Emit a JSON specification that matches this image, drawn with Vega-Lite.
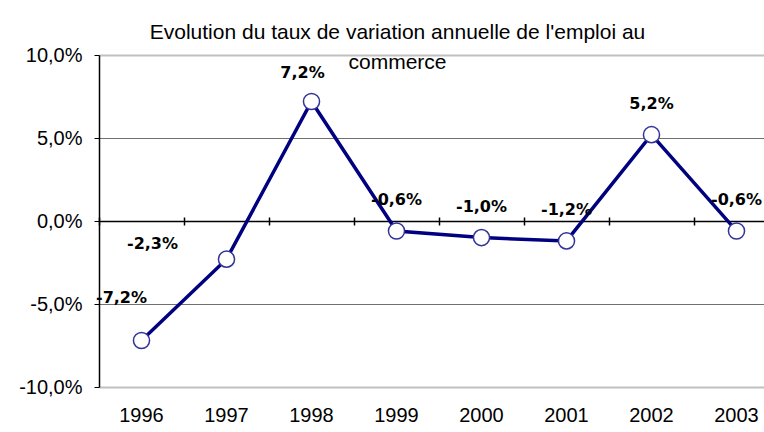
{
  "$schema": "https://vega.github.io/schema/vega-lite/v6.json",
  "width": 680,
  "height": 332,
  "autosize": {"type": "none"},
  "padding": {"left": 99, "top": 55, "right": 0, "bottom": 45},
  "background": "white",
  "title": {
    "text": ["Evolution du taux de variation annuelle de l'emploi au", "commerce"],
    "font": "Liberation Sans",
    "fontSize": 21,
    "fontWeight": "normal",
    "color": "black",
    "lineHeight": 30,
    "anchor": "middle",
    "dx": -41.5,
    "baseline": "top",
    "offset": -28
  },
  "data": {
    "values": [
      {"year": "1996", "value": -0.072},
      {"year": "1997", "value": -0.023},
      {"year": "1998", "value": 0.072},
      {"year": "1999", "value": -0.006},
      {"year": "2000", "value": -0.010},
      {"year": "2001", "value": -0.012},
      {"year": "2002", "value": 0.052},
      {"year": "2003", "value": -0.006}
    ]
  },
  "resolve": {"axis": {"x": "independent", "y": "independent"}},
  "layer": [
    {
      "mark": {"type": "line", "stroke": "#000080", "strokeWidth": 3.5},
      "encoding": {
        "x": {
          "field": "year", "type": "ordinal",
          "scale": {"type": "band", "paddingInner": 0, "paddingOuter": 0},
          "axis": {
            "orient": "bottom", "offset": -170, "labels": false, "domain": false,
            "ticks": true, "tickBand": "extent", "tickSize": 8, "tickColor": "black",
            "tickWidth": 1.5, "title": null, "grid": false
          }
        },
        "y": {
          "field": "value", "type": "quantitative",
          "scale": {"domain": [-0.1, 0.1], "nice": false, "zero": false},
          "axis": {
            "values": [-0.1, -0.05, 0, 0.05, 0.1],
            "format": ".1%",
            "labelFont": "Liberation Sans",
            "labelFontSize": 20,
            "labelColor": "black",
            "labelPadding": 12,
            "tickSize": 5,
            "tickColor": "black",
            "domainColor": "black",
            "domainWidth": 1.5,
            "grid": true,
            "gridColor": {"condition": [{"test": "datum.value === 0", "value": "black"}, {"test": "abs(datum.value) > 0.09", "value": "#c0c0c0"}], "value": "#707070"},
            "gridWidth": {"condition": [{"test": "datum.value === 0", "value": 1.5}, {"test": "abs(datum.value) > 0.09", "value": 2}], "value": 1},
            "gridOpacity": 1,
            "title": null
          }
        }
      }
    },
    {
      "mark": {"type": "point", "shape": "circle", "filled": true, "fill": "white", "stroke": "#333399", "strokeWidth": 1.5, "size": 260, "opacity": 1},
      "encoding": {
        "x": {
          "field": "year", "type": "ordinal",
          "scale": {"type": "band", "paddingInner": 0, "paddingOuter": 0},
          "axis": {
            "orient": "bottom", "domain": false, "ticks": false, "labelAngle": 0,
            "labelFont": "Liberation Sans", "labelFontSize": 20, "labelColor": "black",
            "labelPadding": 18, "title": null, "grid": false
          }
        },
        "y": {"field": "value", "type": "quantitative", "axis": null}
      }
    },
    {
      "transform": [{"filter": "datum.year > '1998'"}],
      "mark": {"type": "text", "font": "DejaVu Sans", "fontWeight": "bold", "fontSize": 16, "color": "black", "baseline": "middle", "align": "center", "dy": -31},
      "encoding": {
        "x": {"field": "year", "type": "ordinal", "scale": {"type": "band", "paddingInner": 0, "paddingOuter": 0}, "axis": null},
        "y": {"field": "value", "type": "quantitative", "axis": null},
        "text": {"field": "value", "type": "quantitative", "format": ".1%"}
      }
    },
    {
      "transform": [{"filter": "datum.year === '1998'"}],
      "mark": {"type": "text", "font": "DejaVu Sans", "fontWeight": "bold", "fontSize": 16, "color": "black", "baseline": "middle", "align": "center", "dx": -9, "dy": -28},
      "encoding": {
        "x": {"field": "year", "type": "ordinal", "scale": {"type": "band", "paddingInner": 0, "paddingOuter": 0}, "axis": null},
        "y": {"field": "value", "type": "quantitative", "axis": null},
        "text": {"field": "value", "type": "quantitative", "format": ".1%"}
      }
    },
    {
      "transform": [{"filter": "datum.year === '1997'"}],
      "mark": {"type": "text", "font": "DejaVu Sans", "fontWeight": "bold", "fontSize": 16, "color": "black", "baseline": "middle", "align": "center", "dx": -74, "dy": -15},
      "encoding": {
        "x": {"field": "year", "type": "ordinal", "scale": {"type": "band", "paddingInner": 0, "paddingOuter": 0}, "axis": null},
        "y": {"field": "value", "type": "quantitative", "axis": null},
        "text": {"field": "value", "type": "quantitative", "format": ".1%"}
      }
    },
    {
      "transform": [{"filter": "datum.year === '1996'"}],
      "mark": {"type": "text", "font": "DejaVu Sans", "fontWeight": "bold", "fontSize": 16, "color": "black", "baseline": "middle", "align": "center", "dx": -20, "dy": -43},
      "encoding": {
        "x": {"field": "year", "type": "ordinal", "scale": {"type": "band", "paddingInner": 0, "paddingOuter": 0}, "axis": null},
        "y": {"field": "value", "type": "quantitative", "axis": null},
        "text": {"field": "value", "type": "quantitative", "format": ".1%"}
      }
    }
  ],
  "config": {
    "view": {"stroke": null},
    "locale": {"number": {"decimal": ",", "thousands": " ", "grouping": [3], "currency": ["", " €"], "minus": "-", "percent": "%"}}
  }
}
